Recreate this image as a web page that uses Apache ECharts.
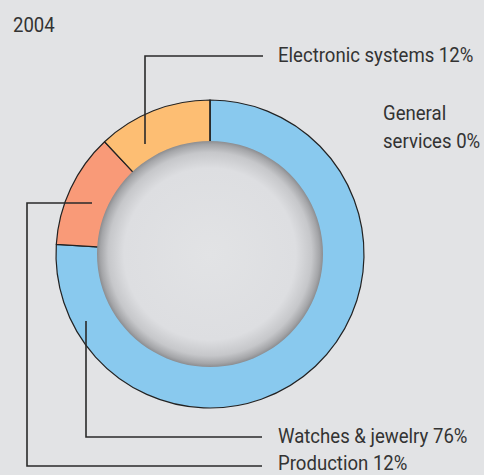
<!DOCTYPE html>
<html>
<head>
<meta charset="utf-8">
<title>2004</title>
<script src="https://cdn.jsdelivr.net/npm/echarts@6/dist/echarts.min.js"></script>
<style>
  html, body { margin: 0; padding: 0; background: #e2e3e5; }
  #chart { width: 484px; height: 475px; }
</style>
</head>
<body>
<div id="chart"></div>
<script>
// Share of sales by segment, 2004
const year = '2004';
const categories = ['Watches & jewelry', 'Production', 'Electronic systems', 'General services'];
const shares = [76, 12, 12, 0];
const colors = ['#89c9ee', '#f99a78', '#fdbe73', '#c8c8c8'];

const FONT = 'Roboto, "Noto Sans", sans-serif';
const INK = '#333333';
const CX = 210, CY = 254, R_IN = 113, R_OUT = 154;
// the condensed lettering is emulated by squeezing a regular face horizontally
const SQUEEZE = 0.885;

const chart = echarts.init(document.getElementById('chart'), null, { renderer: 'svg' });

const labelOf = i => categories[i] + ' ' + shares[i] + '%';

function text(x, y, str) {
  return {
    type: 'text', x: x, y: y, z: 10, scaleX: SQUEEZE, silent: true,
    style: { text: str, fill: INK, font: '21px ' + FONT, textVerticalAlign: 'middle' }
  };
}
function leader(points) {
  return {
    type: 'polyline', z: 10, silent: true,
    shape: { points: points },
    style: { stroke: '#2a2a2a', lineWidth: 1.6, fill: null }
  };
}

chart.setOption({
  backgroundColor: '#e2e3e5',
  animation: false,
  series: [
    {
      type: 'pie',
      center: [CX, CY],
      radius: [R_IN - 4, R_OUT],
      startAngle: 90,
      clockwise: true,
      silent: true,
      label: { show: false },
      labelLine: { show: false },
      itemStyle: { borderColor: '#222', borderWidth: 1.2 },
      data: categories.map((c, i) => ({ name: c, value: shares[i], itemStyle: { color: colors[i] } }))
    },
    {
      // shaded hole of the ring
      type: 'pie',
      center: [CX, CY],
      radius: [0, R_IN],
      silent: true,
      z: 5,
      label: { show: false },
      labelLine: { show: false },
      itemStyle: {
        color: {
          type: 'radial', x: 0.5, y: 0.5, r: 0.5,
          colorStops: [
            { offset: 0, color: '#e2e3e5' },
            { offset: 0.76, color: '#dddee1' },
            { offset: 0.9, color: '#c6c7ca' },
            { offset: 0.97, color: '#a4a5a8' },
            { offset: 1, color: '#8c8d90' }
          ]
        }
      },
      data: [{ name: 'hole', value: 1 }]
    }
  ],
  graphic: [
    text(13, 25, year),
    // Electronic systems
    leader([[145, 144], [145, 56], [263, 56]]),
    text(278, 55, labelOf(2)),
    // General services
    text(383, 113, 'General'),
    text(383, 141, 'services ' + shares[3] + '%'),
    // Watches & jewelry
    leader([[86, 321], [86, 437], [262, 437]]),
    text(278, 436, labelOf(0)),
    // Production
    leader([[92, 203], [27, 203], [27, 466], [262, 466]]),
    text(278, 463, labelOf(1))
  ]
});
</script>
</body>
</html>
